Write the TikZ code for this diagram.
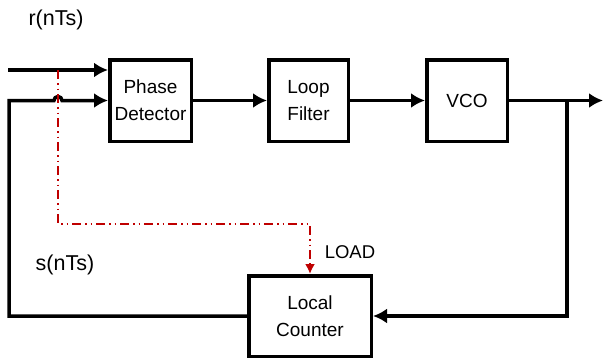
\documentclass[tikz,border=0pt]{standalone}
\usepackage{fontspec}
\setmainfont{Liberation Sans}
\usetikzlibrary{arrows.meta,positioning,calc}
\tikzset{
    blockbox/.style={draw, line width=3.5pt, align=center, inner sep=0pt,
                     font=\fontsize{19}{27}\selectfont},
    sigtext/.style={font=\fontsize{21.5}{26}\selectfont},
    loadline/.style={draw=red!75!black, line width=2pt,
                     dash pattern=on 9pt off 4pt on 1.5pt off 4pt on 1.5pt off 4pt}
}
\begin{document}
\begin{tikzpicture}[
                    x=1pt, y=-1pt,
                    >={Latex[length=14pt,width=15pt]},
                    line width=3.5pt]
                \useasboundingbox (0,0) rectangle (603,364);

                \node[blockbox, minimum width=81.5, minimum height=81.5] (PD) at (150.5,100.5) {Phase\\Detector};
                \node[blockbox, minimum width=79.5, minimum height=81.5] (LF) at (308.5,100.5) {Loop\\Filter};
                \node[blockbox, minimum width=80.5, minimum height=81.5] (VCO) at (467,100.5) {VCO};
                \node[blockbox, minimum width=122.5, minimum height=80.5] (LC) at (310,316) {Local\\Counter};

                \node[sigtext] (R) at (56,20) {r(nTs)};
                \node[sigtext] (S) at (65,265) {s(nTs)};
                \node[font=\fontsize{18.5}{22}\selectfont] (L) at (350,252) {LOAD};

                \coordinate (rin) at (8,70);
                \coordinate (tap) at (58,70);
                \coordinate (bend) at (9,100.5);
                \coordinate (hop) at (54,100.5);
                \coordinate (out) at (603,100.5);
                \coordinate (fork) at (567,100.5);

                \draw[->] (rin) -- (rin -| PD.west);
                \draw[->] (LC.west) -| (bend) -- (hop) arc (180:360:4) -- (PD.west);
                \draw[->] (PD) -- (LF);
                \draw[->] (LF) -- (VCO);
                \draw[->] (VCO) -- (out);
                \draw[->] (fork) |- (LC.east);
                \draw[loadline, -{Latex[length=10pt,width=10pt]}] (tap) -- ++(0,154) -| (LC.north);

            \end{tikzpicture}
\end{document}
